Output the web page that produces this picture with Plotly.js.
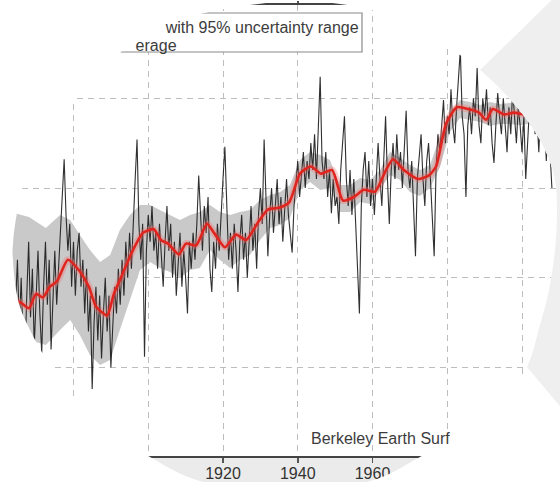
<!DOCTYPE html>
<html><head><meta charset="utf-8">
<script src="https://cdn.plot.ly/plotly-3.0.1.min.js"></script>
<style>html,body{margin:0;padding:0;background:#fff;overflow:hidden}#chart{width:560px;height:482px}</style>
</head><body><div id="chart"></div>
<script>
// ---------------- data ----------------
const blackStartYear = 1862;
const blackStep = 0.5;
const blackValues = [
 -0.35,-0.80,-0.55,-0.30,-0.90,-0.62,-0.40,-0.78,-0.50,-0.85,-0.95,-0.60,-0.30,-0.72,-0.45,-0.88,
 -0.60,-0.35,-0.70,-0.92,-0.55,-0.30,-0.65,-0.40,-0.90,-0.60,-0.35,-0.65,-0.45,-0.25,-0.05,0.16,-0.15,-0.35,-0.20,-0.55,
 -0.30,-0.60,-0.35,-0.25,-0.55,-0.40,-0.70,-0.45,-0.80,-0.60,-1.12,-0.75,-0.55,-0.85,-0.60,-0.95,-0.70,-0.50,-0.80,-0.60,
 -1.00,-0.75,-0.55,-0.70,-0.45,-0.65,-0.40,-0.60,-0.30,-0.50,-0.25,-0.45,-0.15,0.05,0.27,-0.20,-0.40,-0.20,-0.94,-0.35,
 -0.15,-0.30,-0.10,-0.35,-0.25,-0.45,-0.20,-0.40,-0.55,-0.30,-0.10,-0.35,-0.20,-0.50,-0.30,-0.60,-0.45,-0.25,-0.55,-0.35,
 -0.50,-0.70,-0.30,-0.45,-0.25,-0.40,-0.20,0.07,-0.15,-0.35,-0.10,-0.25,-0.05,-0.45,-0.58,-0.30,-0.45,-0.20,-0.35,-0.10,
 0.05,0.23,-0.15,-0.40,-0.25,-0.45,-0.20,-0.35,-0.58,-0.30,-0.15,-0.40,-0.25,-0.50,-0.30,-0.10,-0.35,-0.20,-0.45,-0.15,
 0.00,-0.20,0.27,-0.05,-0.38,-0.15,0.00,-0.25,-0.10,0.05,-0.20,-0.05,-0.30,-0.10,0.05,-0.15,-0.25,-0.36,-0.10,0.05,
 0.15,-0.05,0.10,0.20,0.00,0.15,0.05,0.25,0.10,0.30,0.05,0.40,0.62,0.15,0.05,0.20,-0.05,0.10,-0.14,0.05,
 -0.10,-0.05,-0.20,0.10,0.25,0.40,0.05,-0.10,0.10,-0.15,0.05,-0.25,-0.45,-0.70,-0.10,0.10,0.20,-0.05,0.15,-0.10,
 0.05,-0.15,0.10,0.25,0.05,-0.10,0.15,0.40,0.05,-0.20,0.10,0.25,0.05,0.30,0.10,0.20,0.00,0.25,0.43,0.10,
 0.00,0.15,-0.10,-0.38,0.05,0.20,0.30,0.05,-0.10,0.15,0.25,0.05,-0.20,-0.38,0.10,0.30,0.20,0.35,0.49,0.25,
 0.40,0.30,0.55,0.35,0.25,0.45,0.60,0.77,0.40,0.30,-0.05,0.35,0.45,0.30,0.50,0.40,0.67,0.35,0.25,0.50,
 0.40,0.55,0.35,0.45,0.25,0.14,0.35,0.53,0.40,0.30,0.50,0.35,0.20,0.45,0.30,0.55,0.40,0.25,0.45,0.35,
 0.20,0.40,0.05,0.30,0.45,0.35,0.50,0.30,0.40,0.20,0.45,0.30,0.40,0.15,0.35,0.20,0.00
];
const redYears = [1862.0,1864.0,1866.0,1868.1,1870.0,1871.8,1873.7,1875.6,1878.5,1881.5,1884.1,1886.0,1889.0,1890.8,
 1892.7,1895.6,1898.6,1901.5,1903.4,1905.3,1908.2,1910.1,1912.8,1915.7,1917.6,1920.5,1923.5,1926.2,1929.1,1932.0,
 1935.0,1937.7,1940.6,1943.5,1946.2,1949.2,1952.1,1955.0,1957.7,1960.7,1963.6,1965.5,1968.4,1972.2,1975.1,1977.0,
 1979.7,1982.6,1985.6,1988.5,1990.4,1992.2,1995.2,1997.9,2000.5,2003.5];
const redValues = [-0.60,-0.62,-0.64,-0.67,-0.59,-0.61,-0.55,-0.52,-0.40,-0.46,-0.55,-0.66,-0.71,-0.59,
 -0.50,-0.36,-0.25,-0.23,-0.29,-0.31,-0.37,-0.31,-0.32,-0.20,-0.25,-0.33,-0.26,-0.29,-0.20,-0.12,
 -0.11,-0.08,0.08,0.12,0.08,0.10,-0.07,-0.05,-0.01,-0.02,0.10,0.16,0.10,0.05,0.07,0.12,
 0.36,0.45,0.44,0.42,0.38,0.44,0.41,0.42,0.41,0.42];
const bandYears = [1861,1864.1,1868.1,1872.6,1876.4,1879.1,1881.7,1884.4,1887.1,1889.8,1892.4,1895.1,1897.8,1900.5,
 1903.1,1905.8,1908.5,1911.2,1913.8,1916.5,1919.2,1921.9,1924.5,1927.2,1929.9,1932.6,1935.3,1937.9,1940.6,1943.3,
 1946.0,1948.6,1951.3,1954.0,1956.7,1959.3,1962.0,1964.7,1967.4,1970.0,1972.7,1975.4,1978.1,1980.7,1983.4,1986.1,
 1988.8,1991.4,1994.1,1996.8,1999.5,2002.0,2005.0,2009.0];
const bandUpper = [-0.14,-0.139,-0.162,-0.223,-0.150,-0.178,-0.262,-0.346,-0.412,-0.373,-0.234,-0.150,-0.095,-0.095,
 -0.123,-0.150,-0.178,-0.150,-0.134,-0.095,-0.134,-0.150,-0.134,-0.123,-0.067,-0.039,-0.022,0.017,0.156,0.201,
 0.184,0.156,0.017,0.017,0.056,0.045,0.100,0.201,0.167,0.128,0.100,0.128,0.290,0.424,0.491,0.479,
 0.463,0.479,0.468,0.474,0.47,0.48,0.47,0.46];
const bandLower = [-0.82,-0.819,-0.847,-0.875,-0.792,-0.736,-0.819,-0.931,-0.987,-0.959,-0.792,-0.624,-0.457,-0.412,
 -0.446,-0.468,-0.502,-0.457,-0.446,-0.346,-0.401,-0.446,-0.401,-0.373,-0.290,-0.223,-0.206,-0.167,-0.011,0.033,
 -0.011,0.000,-0.134,-0.134,-0.078,-0.089,-0.011,0.072,0.045,-0.022,-0.045,0.000,0.120,0.312,0.390,0.379,
 0.368,0.346,0.357,0.357,0.35,0.36,0.36,0.35];
const xTickVals = [1880,1900,1920,1940,1960,1980,2000];
const xTickText = ['1880','1900','1920','1940','1960','1980','2000'];
const yGridVals = [-1,-0.5,0,0.5];
const legendBandLabel = '10-year moving average with 95% uncertainty range';
const legendBlackLabel = '12-month moving average';
const sourceLabel = 'Berkeley Earth Surface Temperature';

// ---------------- layout helpers ----------------
const W = 560, H = 482, plotTop = 5, plotBottom = 456;
const toPaper = p => [p[0] / W, (plotBottom - p[1]) / (plotBottom - plotTop)];
const fmt = p => { const q = toPaper(p); return q[0].toFixed(5) + ' ' + q[1].toFixed(5); };
const polyPath = pts => pts.map((p, i) => (i ? 'L ' : 'M ') + fmt(p)).join(' ') + ' Z';

// outline of the round crop (pixels)
const crop = [[300,1],[360,7],[405,22],[440,42],[480,70],[515,105],[540,140],[554,175],[557,210],[555,250],
 [549,290],[540,325],[527,367],[505,395],[470,425],[420,457],[367,482],[285,492],[203,482],[150,457],
 [110,430],[77,400],[50,365],[30,330],[18,300],[13,260],[15,225],[25,180],[45,140],[67,110],[95,78],[125,48],
 [160,27],[200,14],[250,5]];
const NS = 8;
function sampleClosed(P, n) {
  const S = [], N = P.length;
  for (let i = 0; i < N; i++) {
    const a = P[(i - 1 + N) % N], b = P[i], c = P[(i + 1) % N], d = P[(i + 2) % N];
    for (let k = 0; k < n; k++) {
      const t = k / n, t2 = t * t, t3 = t2 * t;
      const f = (A, B, C, D) => 0.5 * (2 * B + (-A + C) * t + (2 * A - 5 * B + 4 * C - D) * t2 + (-A + 3 * B - 3 * C + D) * t3);
      S.push([f(a[0], b[0], c[0], d[0]), f(a[1], b[1], c[1], d[1])]);
    }
  }
  return S;
}
const S = sampleClosed(crop, NS);
const outer = [[-60,-60],[620,-60],[620,560],[-60,560]];
const maskPath = polyPath(outer) + ' ' + polyPath(S);
const sideGray = polyPath(S.slice(4 * NS, 12 * NS + 1).concat([[570,418],[570,-10],[562,-10]]));

const font = 'Arial, "Liberation Sans", Helvetica, sans-serif';
const txt = '#3c3c3c';
// parts of the texts that fall outside the round crop: kept as real text, but white and small
const hide = s => '<span style="color:#ffffff;font-size:10px">' + s + '</span>';
const cutBand = legendBandLabel.indexOf('with');
const cutBlack = legendBlackLabel.length - 5;
const cutSource = 19;

const blackYears = blackValues.map((v, i) => blackStartYear + i * blackStep);

const traces = [
  {x: bandYears, y: bandLower, mode: 'lines', line: {width: 0}, showlegend: false, hoverinfo: 'skip'},
  {x: bandYears, y: bandUpper, mode: 'lines', line: {width: 0}, fill: 'tonexty', fillcolor: '#c9c9c9',
   name: legendBandLabel, showlegend: false, hoverinfo: 'skip'},
  {x: blackYears, y: blackValues, mode: 'lines', line: {color: 'rgba(25,25,25,0.9)', width: 1.1},
   name: legendBlackLabel, showlegend: false},
  {x: redYears, y: redValues, mode: 'lines', line: {color: 'rgba(240,110,110,0.35)', width: 7, shape: 'spline', smoothing: 0.6},
   showlegend: false, hoverinfo: 'skip'},
  {x: redYears, y: redValues, mode: 'lines', line: {color: '#e0251f', width: 2.6, shape: 'spline', smoothing: 0.6},
   name: '10-year moving average', showlegend: false}
];

const x0 = 1920 - 223 / 3.7375, x1 = 1920 + 337 / 3.7375;
const y1 = (188 - plotTop) / 179.4, y0 = (188 - plotBottom) / 179.4;

const layout = {
  width: W, height: H,
  margin: {l: 0, r: 0, t: plotTop, b: H - plotBottom, pad: 0},
  paper_bgcolor: '#ffffff', plot_bgcolor: '#ffffff',
  showlegend: false,
  font: {family: font, size: 16, color: txt},
  xaxis: {
    range: [x0, x1], tickmode: 'array', tickvals: xTickVals, ticktext: xTickText,
    showgrid: true, gridcolor: '#bdbdbd', gridwidth: 1, griddash: '6px,5px',
    showline: true, linecolor: '#444', linewidth: 2, mirror: 'ticks',
    ticks: 'outside', ticklen: 5, tickwidth: 1.5, tickcolor: '#555',
    ticklabelstandoff: -3,
    tickfont: {family: font, size: 16, color: '#333'}, zeroline: false
  },
  yaxis: {
    range: [y0, y1], tickmode: 'array', tickvals: yGridVals, showticklabels: false,
    showgrid: true, gridcolor: '#bdbdbd', gridwidth: 1, griddash: '6px,5px',
    showline: false, zeroline: false, ticks: ''
  },
  shapes: [
    {type: 'rect', xref: 'paper', yref: 'paper', x0: -0.1, x1: 1.1, y0: toPaper([0,495])[1], y1: 0,
     fillcolor: '#ebebeb', line: {width: 0}, layer: 'below'},
    {type: 'rect', xref: 'paper', yref: 'paper', x0: -0.2, x1: 362 / W, y0: toPaper([0,52])[1], y1: toPaper([0,13])[1],
     fillcolor: '#ffffff', line: {color: '#8a8a8a', width: 1.2}, layer: 'above'},
    {type: 'path', xref: 'paper', yref: 'paper', path: maskPath, fillrule: 'evenodd',
     fillcolor: '#ffffff', line: {width: 0}, layer: 'above'},
    {type: 'path', xref: 'paper', yref: 'paper', path: sideGray, fillcolor: '#efefef', line: {width: 0}, layer: 'above'}
  ],
  annotations: [
    {xref: 'paper', yref: 'paper', x: 361 / W, y: toPaper([0,27])[1], xanchor: 'right', yanchor: 'middle', showarrow: false,
     text: hide(legendBandLabel.slice(0, cutBand)) + legendBandLabel.slice(cutBand), font: {family: font, size: 16, color: txt}},
    {xref: 'paper', yref: 'paper', x: 179 / W, y: toPaper([0,45])[1], xanchor: 'right', yanchor: 'middle', showarrow: false,
     text: hide(legendBlackLabel.slice(0, cutBlack)) + legendBlackLabel.slice(cutBlack), font: {family: font, size: 16, color: txt}},
    {xref: 'paper', yref: 'paper', x: 309 / W, y: toPaper([0,438])[1], xanchor: 'left', yanchor: 'middle', showarrow: false,
     text: sourceLabel.slice(0, cutSource) + hide(sourceLabel.slice(cutSource)), font: {family: font, size: 16, color: txt}}
  ]
};

Plotly.newPlot('chart', traces, layout, {staticPlot: true, displayModeBar: false});
</script>
</body></html>
